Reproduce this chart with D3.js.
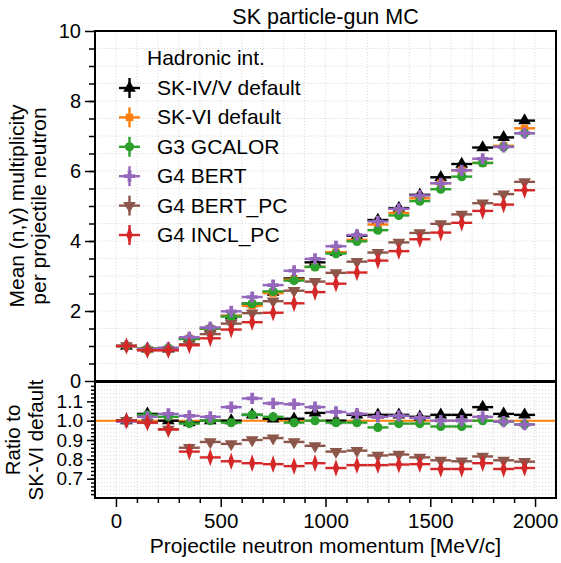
<!DOCTYPE html>
<html lang="en">
<head>
  <meta charset="UTF-8" />
  <title>SK particle-gun MC</title>
  <script src="https://d3js.org/d3.v7.min.js"></script>
  <style>
    body {
      margin: 0;
      background: #ffffff;
      font-family: "Liberation Sans", Arial, sans-serif;
    }
    .grid line {
      stroke: #d4d4d4;
      stroke-width: 0.8px;
      stroke-dasharray: 1.2, 1.8;
    }
    .frame {
      fill: none;
      stroke: #000;
      stroke-width: 2px;
    }
  </style>
</head>
<body>
  <svg width="561" height="563"></svg>

  <script>
    // bin centres (MeV/c), each bin is 100 MeV/c wide
    const momentum = [50, 150, 250, 350, 450, 550, 650, 750, 850, 950,
                      1050, 1150, 1250, 1350, 1450, 1550, 1650, 1750, 1850, 1950];
    const binHalfWidth = 50;

    // mean (n,gamma) multiplicity per projectile neutron
    const sk45 = [1.00, 0.92, 0.92, 1.21, 1.50, 1.86, 2.21, 2.54, 2.93, 3.39,
                  3.68, 4.15, 4.60, 4.94, 5.32, 5.82, 6.20, 6.67, 6.96, 7.44];
    const sk6  = [1.00, 0.89, 0.92, 1.22, 1.50, 1.86, 2.15, 2.51, 2.90, 3.26,
                  3.68, 4.03, 4.47, 4.80, 5.22, 5.65, 6.02, 6.23, 6.72, 7.22];
    const g3   = [1.00, 0.92, 0.94, 1.20, 1.50, 1.84, 2.21, 2.56, 2.87, 3.26,
                  3.64, 3.99, 4.31, 4.73, 5.14, 5.48, 5.84, 6.23, 6.69, 7.08];
    const bert = [1.00, 0.91, 0.95, 1.25, 1.53, 1.99, 2.40, 2.74, 3.15, 3.49,
                  3.85, 4.17, 4.56, 4.92, 5.30, 5.65, 6.02, 6.35, 6.69, 7.08];
    const bertPc = [1.00, 0.88, 0.88, 1.05, 1.34, 1.64, 1.94, 2.28, 2.58, 2.84,
                    3.09, 3.41, 3.67, 3.96, 4.23, 4.49, 4.76, 5.08, 5.34, 5.69];
    const inclPc = [1.00, 0.88, 0.88, 1.02, 1.22, 1.47, 1.68, 1.95, 2.22, 2.54,
                    2.78, 3.10, 3.44, 3.71, 4.05, 4.24, 4.52, 4.86, 5.04, 5.45];

    // ratio to SK-VI default
    const sk45Ratio = [1.00, 1.035, 1.00, 0.99, 1.00, 1.00, 1.03, 1.01, 1.01, 1.04,
                       1.00, 1.03, 1.03, 1.03, 1.02, 1.03, 1.03, 1.07, 1.035, 1.03];
    const g3Ratio   = [1.00, 1.03, 1.02, 0.985, 1.00, 0.99, 1.03, 1.02, 0.99, 1.00,
                       0.99, 0.99, 0.965, 0.985, 0.985, 0.97, 0.97, 1.00, 0.995, 0.98];
    const bertRatio = [0.995, 1.02, 1.035, 1.025, 1.02, 1.07, 1.115, 1.09, 1.085, 1.07,
                       1.045, 1.035, 1.02, 1.025, 1.015, 1.00, 1.00, 1.02, 0.995, 0.98];
    const bertPcRatio = [1.00, 0.99, 0.955, 0.86, 0.89, 0.88, 0.90, 0.91, 0.89, 0.87,
                         0.84, 0.845, 0.82, 0.825, 0.81, 0.795, 0.79, 0.815, 0.795, 0.788];
    const inclPcRatio = [1.00, 0.99, 0.955, 0.84, 0.81, 0.79, 0.78, 0.775, 0.765, 0.78,
                         0.755, 0.77, 0.77, 0.773, 0.775, 0.75, 0.75, 0.78, 0.75, 0.755];

    const seriesNames = ["SK-IV/V default", "SK-VI default", "G3 GCALOR",
                         "G4 BERT", "G4 BERT_PC", "G4 INCL_PC"];
    const seriesColors = ["#000000", "#ff7f0e", "#2ca02c", "#9467bd", "#8c564b", "#d62728"];
    const seriesMarkers = ["triangleUp", "square", "circle", "plus", "triangleDown", "diamond"];

    const xTicks = [0, 500, 1000, 1500, 2000];
    const topTicks = [0, 2, 4, 6, 8, 10];
    const ratioTicks = [0.7, 0.8, 0.9, 1.0, 1.1];

    const topValues = [sk45, sk6, g3, bert, bertPc, inclPc];
    const ratioValues = [sk45Ratio, null, g3Ratio, bertRatio, bertPcRatio, inclPcRatio];

    const svg = d3.select("svg");
    const font = "Liberation Sans, Arial, sans-serif";
    const left = 95, right = 556;
    const topPanel = { top: 31, bottom: 381 };
    const ratioPanel = { top: 382, bottom: 498 };

    const x = d3.scaleLinear().domain([-100, 2100]).range([left, right]);
    const yTop = d3.scaleLinear().domain([0, 10]).range([topPanel.bottom, topPanel.top]);
    const yRat = d3.scaleLinear().domain([0.6, 1.2]).range([ratioPanel.bottom, ratioPanel.top]);

    svg.append("rect").attr("width", 561).attr("height", 563).attr("fill", "#fff");

    // grids
    const xMinor = d3.range(0, 2100, 100);
    const gridTop = svg.append("g").attr("class", "grid");
    gridTop.selectAll(".v").data(xMinor).join("line").attr("class", "v")
      .attr("x1", d => x(d)).attr("x2", d => x(d))
      .attr("y1", topPanel.top).attr("y2", topPanel.bottom);
    gridTop.selectAll(".h").data(d3.range(0.5, 10, 0.5)).join("line").attr("class", "h")
      .attr("x1", left).attr("x2", right)
      .attr("y1", d => yTop(d)).attr("y2", d => yTop(d));

    const gridRat = svg.append("g").attr("class", "grid");
    gridRat.selectAll(".v").data(xMinor).join("line").attr("class", "v")
      .attr("x1", d => x(d)).attr("x2", d => x(d))
      .attr("y1", ratioPanel.top).attr("y2", ratioPanel.bottom);
    gridRat.selectAll(".h").data(d3.range(31, 60).map(i => i / 50)).join("line").attr("class", "h")
      .attr("x1", left).attr("x2", right)
      .attr("y1", d => yRat(d)).attr("y2", d => yRat(d));

    // marker shapes
    function marker(sel, kind, color) {
      let path, transform = "";
      if (kind === "triangleUp") path = d3.symbol(d3.symbolTriangle, 70)();
      else if (kind === "triangleDown") { path = d3.symbol(d3.symbolTriangle, 70)(); transform = " rotate(180)"; }
      else if (kind === "square") path = d3.symbol(d3.symbolSquare, 56)();
      else if (kind === "circle") path = d3.symbol(d3.symbolCircle, 68)();
      else if (kind === "plus") path = d3.symbol(d3.symbolCross, 70)();
      else { path = d3.symbol(d3.symbolDiamond, 90)(); transform = " scale(0.62,1)"; }
      sel.append("path")
        .attr("d", path)
        .attr("fill", color)
        .attr("transform", function () {
          const p = d3.select(this.parentNode).datum();
          return `translate(${p.cx},${p.cy})` + transform;
        });
    }

    function drawSeries(g, values, yScale, color, kind) {
      const pts = momentum.map((m, i) => ({ cx: x(m), cy: yScale(values[i]), m }));
      const grp = g.append("g");
      grp.selectAll("line.xerr").data(pts).join("line").attr("class", "xerr")
        .attr("x1", d => x(d.m - binHalfWidth)).attr("x2", d => x(d.m + binHalfWidth))
        .attr("y1", d => d.cy).attr("y2", d => d.cy)
        .attr("stroke", color).attr("stroke-width", 2.4);
      grp.selectAll("g.mk").data(pts).join("g").attr("class", "mk")
        .each(function () { marker(d3.select(this), kind, color); });
    }

    // top panel data
    const gTop = svg.append("g");
    topValues.forEach((vals, i) => drawSeries(gTop, vals, yTop, seriesColors[i], seriesMarkers[i]));

    // ratio panel: reference line then the other series
    const gRat = svg.append("g");
    gRat.append("line")
      .attr("x1", left).attr("x2", right)
      .attr("y1", yRat(1)).attr("y2", yRat(1))
      .attr("stroke", seriesColors[1]).attr("stroke-width", 2);
    ratioValues.forEach((vals, i) => {
      if (vals) drawSeries(gRat, vals, yRat, seriesColors[i], seriesMarkers[i]);
    });

    // frames
    svg.append("rect").attr("class", "frame")
      .attr("x", left).attr("y", topPanel.top)
      .attr("width", right - left).attr("height", topPanel.bottom - topPanel.top);
    svg.append("rect").attr("class", "frame")
      .attr("x", left).attr("y", ratioPanel.top)
      .attr("width", right - left).attr("height", ratioPanel.bottom - ratioPanel.top);

    // axes
    const axTop = svg.append("g").attr("transform", `translate(${left},0)`);
    axTop.call(d3.axisLeft(yTop).tickValues(d3.range(0.5, 10, 0.5)).tickSize(6).tickFormat(""));
    axTop.call(g => g.select(".domain").remove());
    const axTopMaj = svg.append("g").attr("transform", `translate(${left},0)`)
      .call(d3.axisLeft(yTop).tickValues(topTicks).tickSize(10).tickPadding(4).tickFormat(d3.format("d")));
    axTopMaj.select(".domain").remove();
    axTopMaj.selectAll("text").attr("font-size", 20).attr("font-family", font);

    const axRatMin = svg.append("g").attr("transform", `translate(${left},0)`)
      .call(d3.axisLeft(yRat).tickValues(d3.range(31, 60).map(i => i / 50)).tickSize(4).tickFormat(""));
    axRatMin.select(".domain").remove();
    const axRat = svg.append("g").attr("transform", `translate(${left},0)`)
      .call(d3.axisLeft(yRat).tickValues(ratioTicks).tickSize(8).tickPadding(4).tickFormat(d3.format(".1f")));
    axRat.select(".domain").remove();
    axRat.selectAll("text").attr("font-size", 19).attr("font-family", font);

    const axXMin = svg.append("g").attr("transform", `translate(0,${ratioPanel.bottom})`)
      .call(d3.axisBottom(x).tickValues(xMinor.filter(v => v % 500 !== 0)).tickSize(5).tickFormat(""));
    axXMin.select(".domain").remove();
    const axX = svg.append("g").attr("transform", `translate(0,${ratioPanel.bottom})`)
      .call(d3.axisBottom(x).tickValues(xTicks).tickSize(9).tickPadding(6).tickFormat(d3.format("d")));
    axX.select(".domain").remove();
    axX.selectAll("text").attr("font-size", 20.5).attr("font-family", font);
    svg.selectAll(".tick line").attr("stroke-width", 1.5);

    // texts
    svg.append("text").attr("x", (left + right) / 2).attr("y", 24)
      .attr("text-anchor", "middle").attr("font-size", 21.5).text("SK particle-gun MC");
    svg.append("text").attr("x", (left + right) / 2).attr("y", 553)
      .attr("text-anchor", "middle").attr("font-size", 21).text("Projectile neutron momentum [MeV/c]");

    const yLab = svg.append("text").attr("text-anchor", "middle").attr("font-size", 21)
      .attr("transform", `translate(0,${(topPanel.top + topPanel.bottom) / 2}) rotate(-90)`);
    yLab.append("tspan").attr("x", 0).attr("y", 24).text("Mean (n,\u03b3) multiplicity");
    yLab.append("tspan").attr("x", 0).attr("y", 46).text("per projectile neutron");

    const rLab = svg.append("text").attr("text-anchor", "middle").attr("font-size", 20.5)
      .attr("transform", `translate(0,${(ratioPanel.top + ratioPanel.bottom) / 2}) rotate(-90)`);
    rLab.append("tspan").attr("x", 0).attr("y", 20).text("Ratio to");
    rLab.append("tspan").attr("x", 0).attr("y", 43).text("SK-VI default");

    // legend
    const legend = svg.append("g");
    legend.append("text").attr("x", 147).attr("y", 65).attr("font-size", 21).text("Hadronic int.");
    seriesNames.forEach((name, i) => {
      const base = 95 + i * 29.4;
      const cy = base - 7;
      const entry = legend.append("g");
      entry.append("line").attr("x1", 119).attr("x2", 140).attr("y1", cy).attr("y2", cy)
        .attr("stroke", seriesColors[i]).attr("stroke-width", 2.4);
      entry.append("line").attr("x1", 129.5).attr("x2", 129.5).attr("y1", cy - 10).attr("y2", cy + 10)
        .attr("stroke", seriesColors[i]).attr("stroke-width", 2.4);
      const mk = entry.append("g").datum({ cx: 129.5, cy });
      marker(mk, seriesMarkers[i], seriesColors[i]);
      entry.append("text").attr("x", 157).attr("y", base).attr("font-size", 21).text(name);
    });
  </script>
</body>
</html>
